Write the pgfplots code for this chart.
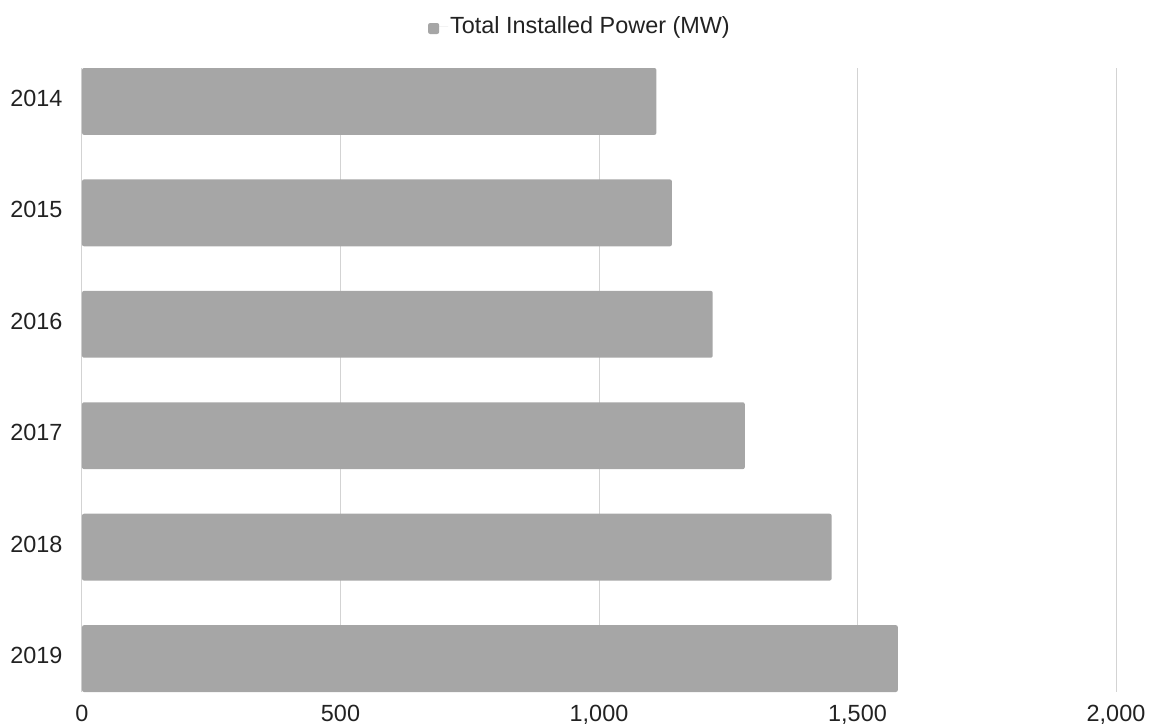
\documentclass[border=0pt]{standalone}
\usepackage{fontspec}
\setmainfont{Liberation Sans}
\usepackage{pgfplots}
\pgfplotsset{compat=1.18}
\definecolor{barcol}{HTML}{A6A6A6}
\definecolor{gridcol}{HTML}{D3D3D3}
\definecolor{txtcol}{HTML}{222222}
\begin{document}
\begin{tikzpicture}
\begin{axis}[
  at={(0bp,0bp)}, anchor=south west,
  scale only axis,
  width=1034bp, height=624bp,
  xbar, bar width=0.6,
  y dir=reverse,
  xmin=0, xmax=2000,
  ymin=-0.3, ymax=5.3,
  xtick={0,500,1000,1500,2000},
  ytick={0,1,2,3,4,5},
  yticklabels={2014,2015,2016,2017,2018,2019},
  /pgf/number format/assume math mode=true,
  /pgf/number format/1000 sep={,},
  xmajorgrids,
  major grid style={gridcol, line width=1bp},
  axis line style={draw=none},
  major tick length=0pt,
  tick label style={font=\fontsize{23.5}{27}\selectfont, text=txtcol},
  xticklabel style={yshift=-10bp},
  yticklabel style={xshift=-16bp, yshift=3bp},
  legend style={at={(0.4816,1)}, anchor=center, yshift=42bp, draw=none,
    font=\fontsize{23.5}{27}\selectfont, text=txtcol,
    legend cell align=left},
  legend image code/.code={
    \fill[barcol] (0bp,-8bp) rectangle (11bp,3bp);
    \path (0bp,0bp) -- (20bp,0bp);
  },
]
\addplot[fill=barcol, draw=none, rounded corners=2bp] coordinates {
  (1111,0) (1141,1) (1220,2) (1282,3) (1450,4) (1578,5)
};
\addlegendentry{Total Installed Power (MW)}
\end{axis}
\pgfresetboundingbox
\path (-82bp,-33bp) rectangle (1071bp,692bp);
\end{tikzpicture}
\end{document}
